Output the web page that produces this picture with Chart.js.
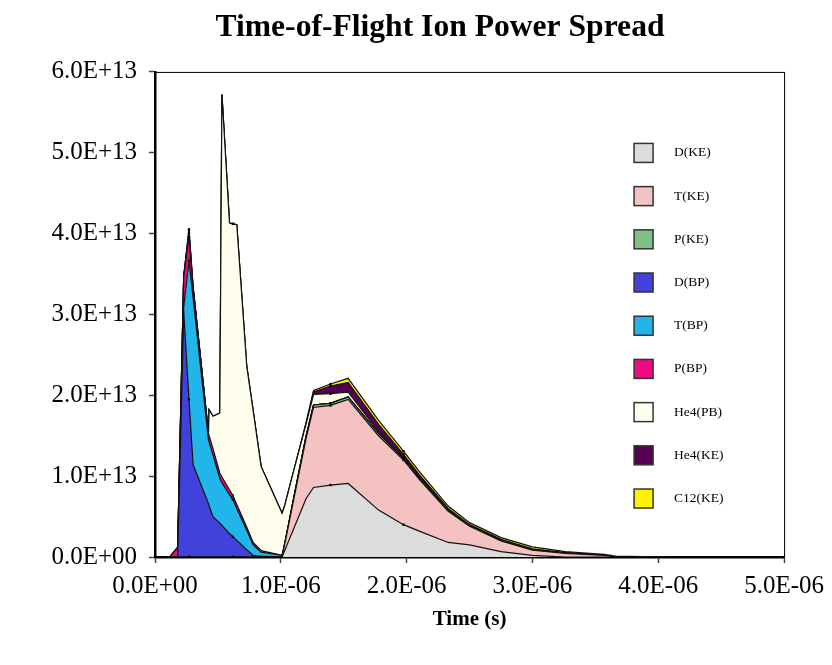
<!DOCTYPE html>
<html>
<head>
<meta charset="utf-8">
<title>Time-of-Flight Ion Power Spread</title>
<script src="https://cdn.jsdelivr.net/npm/chart.js@4.4.1/dist/chart.umd.min.js"></script>
<style>
  html, body { margin: 0; padding: 0; background: #fff; }
  #wrap { width: 832px; height: 665px; }
</style>
</head>
<body>
<div id="wrap"><canvas id="tofChart" width="832" height="665"></canvas></div>
<script>
// time in microseconds, power in units of 1e13
const T_UNIT = 1e-6;
const P_UNIT = 1e13;

const times = [0.118, 0.18, 0.228, 0.27, 0.303, 0.425, 0.43, 0.461, 0.515, 0.532, 0.592, 0.619,
  0.65, 0.729, 0.78, 0.843, 1.01, 1.03, 1.06, 1.10, 1.20, 1.26, 1.395, 1.535, 1.777, 1.975,
  2.1, 2.33, 2.5, 2.75, 3.0, 3.26, 3.57, 3.66, 4.1];

const dKE = [0, 0, 0, 0, 0, 0, 0, 0, 0, 0, 0, 0, 0, 0, 0, 0, 0,
  0.075, 0.19, 0.34, 0.72, 0.86, 0.89, 0.91, 0.58, 0.40, 0.32, 0.18, 0.15, 0.066, 0.02, 0, 0, 0, 0];
const tKE = [0, 0, 0, 0, 0, 0, 0, 0, 0, 0, 0, 0, 0, 0, 0, 0, 0,
  0.075, 0.19, 0.35, 0.74, 0.99, 0.985, 1.04, 0.92, 0.80, 0.64, 0.385, 0.23, 0.134, 0.065, 0.045, 0.02, 0, 0];
const pKE = [0, 0, 0, 0, 0, 0, 0, 0, 0, 0, 0, 0, 0, 0, 0, 0, 0,
  0.005, 0.01, 0.02, 0.03, 0.03, 0.025, 0.03, 0.03, 0.02, 0.02, 0.015, 0.01, 0.01, 0.005, 0.003, 0, 0, 0];
const dBP = [0, 0, 3.04, 1.95, 1.14, 0.66, 0.63, 0.50, 0.42, 0.39, 0.29, 0.25, 0.205, 0.09, 0.02, 0.01, 0,
  0, 0, 0, 0, 0, 0, 0, 0, 0, 0, 0, 0, 0, 0, 0, 0, 0, 0];
const tBP = [0, 0, 0.05, 1.71, 2.06, 0.79, 0.79, 0.76, 0.55, 0.53, 0.48, 0.46, 0.395, 0.24, 0.13, 0.05, 0.02,
  0, 0, 0, 0, 0, 0, 0, 0, 0, 0, 0, 0, 0, 0, 0, 0, 0, 0];
const pBP = [0, 0.12, 0.38, 0.30, 0.12, 0.08, 0.08, 0.08, 0.07, 0.07, 0.06, 0.05, 0.05, 0.04, 0.03, 0.02, 0,
  0, 0, 0, 0, 0, 0, 0, 0, 0, 0, 0, 0, 0, 0, 0, 0, 0, 0];
const he4PB = [0, 0, 0, 0.05, 0.02, 0, 0.32, 0.40, 0.74, 4.73, 3.30, 3.36, 3.46, 1.99, 1.63, 1.04, 0.52,
  0.475, 0.42, 0.34, 0.15, 0.13, 0.12, 0.06, 0.02, 0.01, 0.01, 0, 0, 0, 0, 0, 0, 0, 0];
const he4KE = [0, 0, 0, 0.04, 0, 0, 0, 0, 0, 0, 0, 0, 0, 0, 0, 0, 0,
  0, 0, 0, 0.01, 0.03, 0.095, 0.12, 0.09, 0.04, 0.03, 0.02, 0.01, 0.01, 0.01, 0.005, 0, 0, 0];
const c12KE = [0, 0, 0, 0, 0, 0, 0, 0, 0, 0, 0, 0, 0, 0, 0, 0, 0,
  0, 0, 0, 0.01, 0.02, 0.025, 0.05, 0.05, 0.04, 0.04, 0.03, 0.025, 0.02, 0.025, 0.013, 0.013, 0.01, 0];

const seriesNames = ["D(KE)", "T(KE)", "P(KE)", "D(BP)", "T(BP)", "P(BP)", "He4(PB)", "He4(KE)", "C12(KE)"];
const seriesValues = [dKE, tKE, pKE, dBP, tBP, pBP, he4PB, he4KE, c12KE];
const seriesColors = ["#dcdcdc", "#f5c2c2", "#80c088", "#4141dc", "#22b5ea", "#f00a80", "#fffdeb", "#560055", "#fff200"];

const xTickValues = [0, 1, 2, 3, 4, 5];   // microseconds
const yTickValues = [0, 1, 2, 3, 4, 5, 6]; // 1e13

// data points that carry a small square marker
const markerIdx = [3, 11, 22, 25];

const serif = "'Times New Roman', 'Liberation Serif', serif";

// 1.0E-06 style labels
function sci(v) {
  if (Math.abs(v) < 1e-20) return "0.0E+00";
  const parts = v.toExponential(1).split("e");
  const sign = parts[1][0];
  const exp = parts[1].slice(1).padStart(2, "0");
  return parts[0] + "E" + sign + exp;
}

// thin frame round the plot area (top + right edges)
const plotFrame = {
  id: "plotFrame",
  afterDatasetsDraw(chart) {
    const { ctx, chartArea } = chart;
    ctx.save();
    ctx.strokeStyle = "#000";
    ctx.lineWidth = 1;
    ctx.strokeRect(chartArea.left + 0.5, chartArea.top + 0.5, chartArea.right - chartArea.left, chartArea.bottom - chartArea.top);
    ctx.restore();
  }
};

// legend drawn inside the plot area, one entry per row
const insideLegend = {
  id: "insideLegend",
  afterDraw(chart) {
    const { ctx, chartArea } = chart;
    const x0 = chartArea.right - 150;
    let y = chartArea.top + 81;
    ctx.save();
    ctx.font = "13.5px " + serif;
    ctx.textBaseline = "middle";
    ctx.textAlign = "left";
    chart.data.datasets.forEach(ds => {
      ctx.fillStyle = ds.backgroundColor;
      ctx.fillRect(x0, y - 9.5, 19, 19);
      ctx.lineWidth = 1.5;
      ctx.strokeStyle = "#333";
      ctx.strokeRect(x0, y - 9.5, 19, 19);
      ctx.fillStyle = "#000";
      ctx.fillText(ds.label, x0 + 40, y);
      y += 43.2;
    });
    ctx.restore();
  }
};

const datasets = seriesNames.map((name, i) => ({
  label: name,
  data: times.map((t, k) => ({ x: t * T_UNIT, y: seriesValues[i][k] * P_UNIT })),
  backgroundColor: seriesColors[i],
  borderColor: "#111",
  borderWidth: 1.2,
  fill: i === 0 ? "origin" : "-1",
  tension: 0,
  pointStyle: "rect",
  pointRadius: c => markerIdx.includes(c.dataIndex) ? 1.6 : 0,
  pointBackgroundColor: "#000",
  pointBorderWidth: 0
}));

const tickGrid = { drawOnChartArea: false, drawTicks: true, tickLength: 6, tickColor: "#444", tickWidth: 1.5 };

new Chart(document.getElementById("tofChart").getContext("2d"), {
  type: "line",
  data: { datasets: datasets },
  options: {
    responsive: false,
    animation: false,
    devicePixelRatio: 1,
    layout: { padding: { left: 48, right: 0, top: 0, bottom: 0 } },
    plugins: {
      legend: { display: false },
      tooltip: { enabled: false },
      title: {
        display: true,
        text: "Time-of-Flight Ion Power Spread",
        color: "#000",
        font: { family: serif, size: 31.6, weight: "bold" },
        padding: { top: 9, bottom: 25 }
      }
    },
    scales: {
      x: {
        type: "linear",
        min: 0,
        max: 5 * T_UNIT,
        afterFit: s => { s.height = 108; },
        afterBuildTicks: s => { s.ticks = xTickValues.map(v => ({ value: v * T_UNIT })); },
        ticks: {
          autoSkip: false,
          callback: v => sci(v),
          color: "#000",
          font: { family: serif, size: 25 },
          padding: 8,
          maxRotation: 0
        },
        grid: tickGrid,
        border: { display: true, color: "#000", width: 2.5 },
        title: {
          display: true,
          text: "Time (s)",
          color: "#000",
          font: { family: serif, size: 21, weight: "bold" },
          padding: { top: 0, bottom: 33 }
        }
      },
      y: {
        stacked: true,
        min: 0,
        max: 6 * P_UNIT,
        afterFit: s => { s.width = 107; },
        afterBuildTicks: s => { s.ticks = yTickValues.map(v => ({ value: v * P_UNIT })); },
        ticks: {
          autoSkip: false,
          callback: v => sci(v),
          color: "#000",
          font: { family: serif, size: 25 },
          padding: 12
        },
        grid: tickGrid,
        border: { display: true, color: "#000", width: 2.5 }
      },
      // empty right-hand box that keeps the plot's right edge in place
      yRight: {
        position: "right",
        min: 0,
        max: 1,
        afterFit: s => { s.width = 40; },
        ticks: { display: false },
        grid: { display: false },
        border: { display: false }
      }
    }
  },
  plugins: [plotFrame, insideLegend]
});
</script>
</body>
</html>
